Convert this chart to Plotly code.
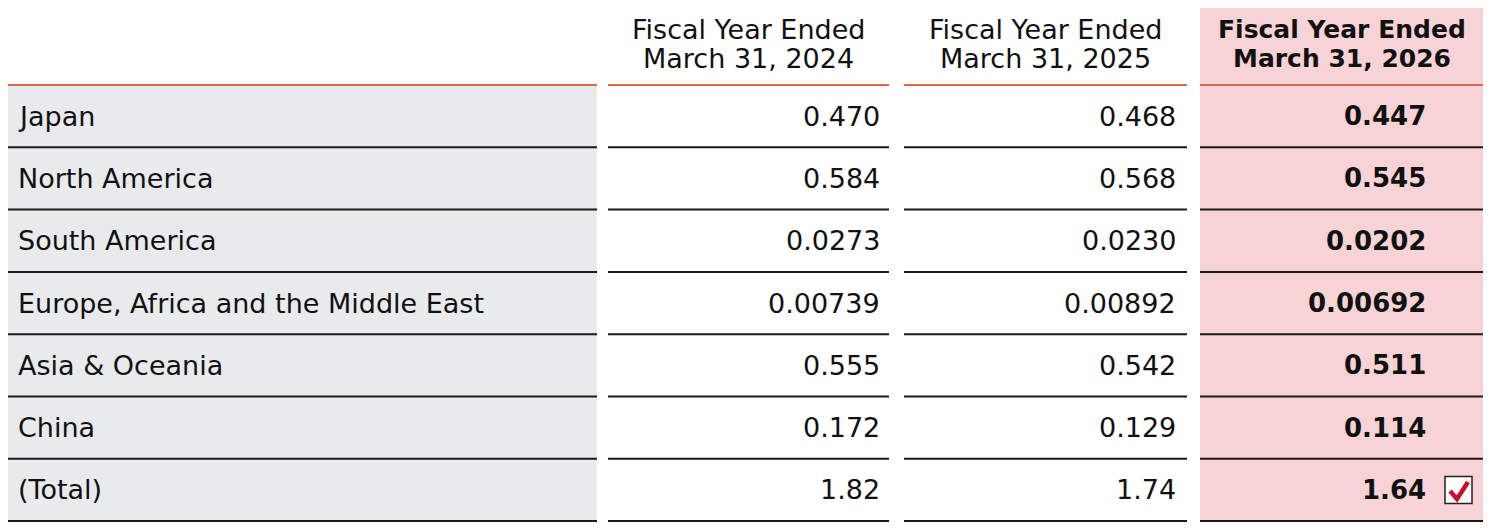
import plotly.graph_objects as go

# Data
regions = ['Japan', 'North America', 'South America',
           'Europe, Africa and the Middle East', 'Asia & Oceania', 'China', '(Total)']
header_l1 = ['Fiscal Year Ended', 'Fiscal Year Ended', 'Fiscal Year Ended']
header_l2 = ['March 31, 2024', 'March 31, 2025', 'March 31, 2026']
fy2024 = ['0.470', '0.584', '0.0273', '0.00739', '0.555', '0.172', '1.82']
fy2025 = ['0.468', '0.568', '0.0230', '0.00892', '0.542', '0.129', '1.74']
fy2026 = ['0.447', '0.545', '0.0202', '0.00692', '0.511', '0.114', '1.64']

# Layout (page pixel space; the page body has an 8px margin)
W, H = 1491, 528
OFF = 8
HEAD_TOP, HEAD_BOT = 3, 85
ROW_H = 62.3
cols = [(8, 597), (608, 889), (904, 1187), (1200, 1483)]
label_x = 16
val_x = [882, 1178, 1428]

GRAY = '#e9eaeb'
PINK = '#f8d3d5'
ORANGE = '#d9694a'
INK = '#111111'
FONT = 'DejaVu Sans'
FS = 27
FS_BOLD_HEAD = 25
FS_BOLD = 26

fig = go.Figure()
shapes = []
annotations = []
n = len(regions)
bottom = HEAD_BOT + n * ROW_H

# backgrounds
shapes.append(dict(type='rect', x0=cols[0][0], x1=cols[0][1], y0=HEAD_BOT, y1=bottom,
                   fillcolor=GRAY, line_width=0, layer='below'))
shapes.append(dict(type='rect', x0=cols[3][0], x1=cols[3][1], y0=HEAD_TOP, y1=bottom,
                   fillcolor=PINK, line_width=0, layer='below'))

# header underline (orange) and row lines (black)
for (x0, x1) in cols:
    shapes.append(dict(type='line', x0=x0, x1=x1, y0=HEAD_BOT, y1=HEAD_BOT,
                       line=dict(color=ORANGE, width=2)))
    for i in range(1, n + 1):
        y = HEAD_BOT + i * ROW_H
        shapes.append(dict(type='line', x0=x0, x1=x1, y0=y, y1=y,
                           line=dict(color='#1a1a1a', width=2)))

# header text, two lines set separately for tight leading
for j in range(3):
    x0, x1 = cols[j + 1]
    bold = j == 2
    for line, yc in ((header_l1[j], 29), (header_l2[j], 58)):
        annotations.append(dict(x=(x0 + x1) / 2, y=yc,
                                text=f'<b>{line}</b>' if bold else line,
                                showarrow=False, xanchor='center', yanchor='middle',
                                font=dict(family=FONT, size=FS_BOLD_HEAD if bold else FS,
                                          color=INK)))

# body text
for i, r in enumerate(regions):
    yc = HEAD_BOT + (i + 0.5) * ROW_H
    annotations.append(dict(x=label_x, y=yc, text=r, showarrow=False,
                            xanchor='left', yanchor='middle',
                            font=dict(family=FONT, size=FS, color=INK)))
    for j, series in enumerate([fy2024, fy2025, fy2026]):
        bold = j == 2
        txt = f'<b>{series[i]}</b>' if bold else series[i]
        annotations.append(dict(x=val_x[j], y=yc, text=txt, showarrow=False,
                                xanchor='right', yanchor='middle',
                                font=dict(family=FONT, size=FS_BOLD if bold else FS,
                                          color=INK)))

# check box next to the total
yc = HEAD_BOT + (n - 0.5) * ROW_H
shapes.append(dict(type='rect', x0=1445, x1=1472, y0=yc - 13.5, y1=yc + 13.5,
                   fillcolor='white', line=dict(color='#222222', width=1.5)))
shapes.append(dict(type='path',
                   path=f'M 1450 {yc+1} L 1457 {yc+9} L 1468 {yc-8}',
                   line=dict(color='#c8102e', width=4.5)))

fig.update_layout(
    width=W, height=H,
    margin=dict(l=0, r=0, t=0, b=0),
    paper_bgcolor='white', plot_bgcolor='white',
    xaxis=dict(range=[OFF, W + OFF], visible=False, fixedrange=True),
    yaxis=dict(range=[H + OFF, OFF], visible=False, fixedrange=True),
    shapes=shapes, annotations=annotations,
    showlegend=False
)

fig.write_html('out.html')
